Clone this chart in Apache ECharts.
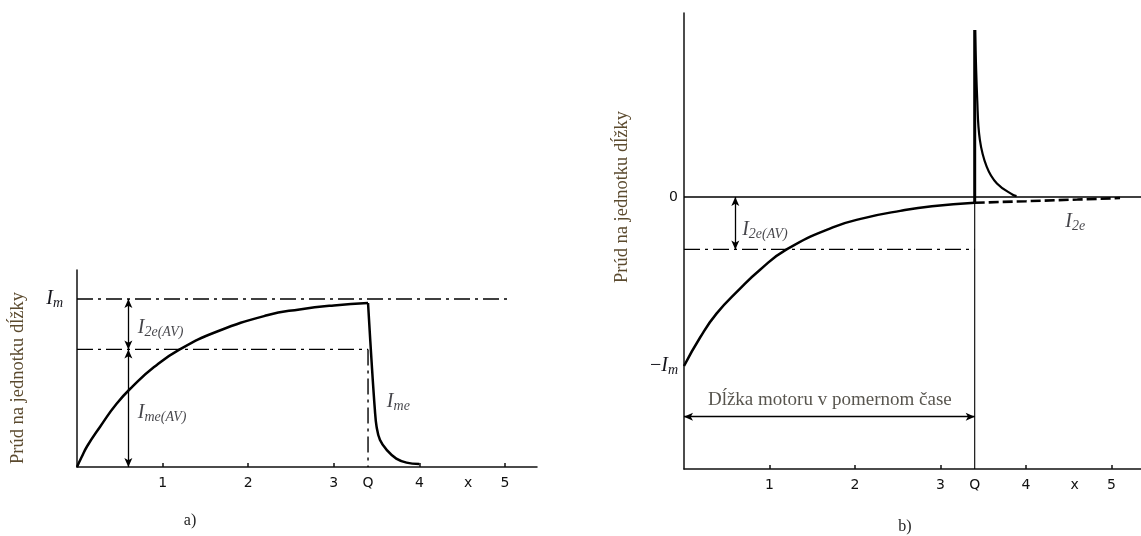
<!DOCTYPE html>
<html>
<head>
<meta charset="utf-8">
<script src="https://cdn.jsdelivr.net/npm/echarts@6/dist/echarts.min.js"></script>
<style>html,body{margin:0;padding:0;background:#fff}#c{width:1141px;height:536px}</style>
</head>
<body>
<div id="c"></div>
<script>
// ---- data ----
const xTicks = [1, 2, 3, 4, 5];
const Q = 3.4;
const xMark = 4.57;
const xLabelValues = [1, 2, 3, 3.4, 4, 4.57, 5];
const xLabelTexts = ['1', '2', '3', 'Q', '4', 'x', '5'];

// chart a)
const leftRise = [[0,0],[0.05,0.055],[0.12,0.125],[0.27,0.24],[0.46,0.375],[0.65,0.48],[0.9,0.595],[1.2,0.70],[1.63,0.805],[2.22,0.903],[2.6,0.938],[3.0,0.962],[3.4,0.976]];
const leftDecay = [[3.4,0.976],[3.44,0.64],[3.48,0.34],[3.5,0.24],[3.54,0.16],[3.62,0.10],[3.73,0.05],[3.85,0.026],[4.0,0.018]];
const leftIm = 1.0;
const leftImEnd = 5.06;
const leftAvg = 0.70;
const leftArrowX = 0.6;

// chart b)
const rightRise = [[0,-1],[0.19,-0.83],[0.38,-0.69],[0.65,-0.545],[0.89,-0.43],[1.2,-0.31],[1.74,-0.18],[2.13,-0.122],[2.53,-0.082],[2.9,-0.055],[3.4,-0.034]];
const rightSpikeUp = [[3.4,-0.034],[3.4,0.988]];
const rightSpikeDecay = [[3.405,0.988],[3.43,0.57],[3.46,0.34],[3.54,0.18],[3.66,0.08],[3.85,0.012],[3.89,0.005]];
const rightI2e = [[3.4,-0.034],[4.0,-0.025],[4.6,-0.015],[5.1,-0.006]];
const rightAvg = -0.31;
const rightArrowX = 0.6;
const rightLengthY = -1.30;

// label anchor points (value coords)
const lblL_I2eAV = [0.71, 0.83];
const lblL_ImeAV = [0.71, 0.32];
const lblL_Ime = [3.62, 0.39];
const lblR_I2eAV = [0.68, -0.195];
const lblR_I2e = [4.46, -0.148];
const lblR_len = [0.28, -1.20];

// ---- chart ----
const serif = 'Liberation Serif';
const ink = '#15151c';
const rich = {
  i: {fontFamily: serif, fontStyle: 'italic', fontSize: 20, color: ink, lineHeight: 24},
  s: {fontFamily: serif, fontStyle: 'italic', fontSize: 14, color: ink, padding: [9, 0, 0, 0], lineHeight: 24},
  m: {fontFamily: serif, fontSize: 20, color: ink, lineHeight: 24},
  z: {fontFamily: 'DejaVu Sans', fontSize: 14, color: '#111'}
};
const dashDot = [16, 5, 3, 5];

function xAxisCfg(gi, max) {
  return {
    type: 'value', gridIndex: gi, min: 0, max: max,
    axisLine: {show: true, onZero: false, lineStyle: {color: '#111', width: 1.5}},
    axisTick: {show: true, inside: true, length: 4, customValues: xTicks, lineStyle: {color: '#111', width: 1.5}},
    axisLabel: {show: true, customValues: xLabelValues, margin: 9, color: '#111', fontFamily: 'DejaVu Sans', fontSize: 14,
      formatter: v => { const k = xLabelValues.findIndex(a => Math.abs(a - v) < 1e-6); return k >= 0 ? xLabelTexts[k] : ''; }},
    splitLine: {show: false}
  };
}

function lineS(data, xi, opts) {
  return Object.assign({
    type: 'line', xAxisIndex: xi, yAxisIndex: xi, data: data, showSymbol: false, symbol: 'none',
    silent: true, animation: false,
    lineStyle: {color: '#000', width: 2.5}
  }, opts || {});
}

function lbl(pt, xi, text) {
  return {
    type: 'scatter', xAxisIndex: xi, yAxisIndex: xi, symbolSize: 0, silent: true, animation: false,
    data: [pt],
    label: {show: true, position: 'right', distance: 0, formatter: text, rich: rich}
  };
}

function arrowML(pairs) {
  return {
    silent: true, animation: false, symbol: ['arrow', 'arrow'], symbolSize: [6, 9],
    lineStyle: {color: '#000', type: 'solid', width: 1.3},
    label: {show: false},
    data: pairs.map(p => [{coord: p[0]}, {coord: p[1]}])
  };
}

const chart = echarts.init(document.getElementById('c'), null, {renderer: 'canvas'});
chart.setOption({
  backgroundColor: '#fff',
  animation: false,
  grid: [
    {left: 77, top: 270, width: 460, height: 197},
    {left: 684, top: 13, width: 457, height: 456}
  ],
  xAxis: [xAxisCfg(0, 5.374), xAxisCfg(1, 5.345)],
  yAxis: [
    {type: 'value', gridIndex: 0, min: 0, max: 1.1726,
      axisLine: {show: true, onZero: false, lineStyle: {color: '#111', width: 1.5}},
      axisTick: {show: false}, splitLine: {show: false},
      axisLabel: {show: true, customValues: [1], margin: 14, rich: rich, formatter: () => '{i|I}{s|m}'}},
    {type: 'value', gridIndex: 1, min: -1.6095, max: 1.0888,
      axisLine: {show: true, onZero: false, lineStyle: {color: '#111', width: 1.5}},
      axisTick: {show: false}, splitLine: {show: false},
      axisLabel: {show: true, customValues: [-1, 0], margin: 6, rich: rich,
        formatter: v => v === 0 ? '{z|0}' : '{m|−}{i|I}{s|m}'}}
  ],
  graphic: [
    {type: 'text', x: 18, y: 378, rotation: Math.PI / 2, style: {text: 'Prúd na jednotku dĺžky', font: '18.5px "Liberation Serif"', fill: '#5b4a2e', align: 'center', verticalAlign: 'middle'}},
    {type: 'text', x: 622, y: 197, rotation: Math.PI / 2, style: {text: 'Prúd na jednotku dĺžky', font: '18.5px "Liberation Serif"', fill: '#5b4a2e', align: 'center', verticalAlign: 'middle'}},
    {type: 'text', x: 190, y: 521, style: {text: 'a)', font: '16px "Liberation Serif"', fill: '#222', align: 'center', verticalAlign: 'middle'}},
    {type: 'text', x: 905, y: 527, style: {text: 'b)', font: '16px "Liberation Serif"', fill: '#222', align: 'center', verticalAlign: 'middle'}}
  ],
  series: [
    // chart a)
    lineS([[0, leftIm], [leftImEnd, leftIm]], 0, {lineStyle: {color: '#000', width: 1.4, type: dashDot}}),
    lineS([[0, leftAvg], [Q, leftAvg]], 0, {lineStyle: {color: '#000', width: 1.4, type: dashDot}}),
    lineS([[Q, leftAvg], [Q, 0]], 0, {lineStyle: {color: '#000', width: 1.4, type: dashDot},
      markLine: arrowML([[[leftArrowX, leftIm], [leftArrowX, leftAvg]], [[leftArrowX, leftAvg], [leftArrowX, 0]]])}),
    lineS(leftRise, 0, {smooth: 0.5}),
    lineS(leftDecay, 0, {smooth: 0.4}),
    lbl(lblL_I2eAV, 0, '{i|I}{s|2e(AV)}'),
    lbl(lblL_ImeAV, 0, '{i|I}{s|me(AV)}'),
    lbl(lblL_Ime, 0, '{i|I}{s|me}'),
    // chart b)
    lineS([[0, 0], [5.345, 0]], 1, {lineStyle: {color: '#000', width: 1.3}}),
    lineS([[Q, -0.034], [Q, -1.6095]], 1, {lineStyle: {color: '#000', width: 1.1},
      markLine: arrowML([[[0, rightLengthY], [Q, rightLengthY]], [[rightArrowX, 0], [rightArrowX, rightAvg]]])}),
    lineS([[0, rightAvg], [Q, rightAvg]], 1, {lineStyle: {color: '#000', width: 1.4, type: dashDot}}),
    lineS(rightRise, 1, {smooth: 0.5}),
    lineS(rightSpikeUp, 1, {lineStyle: {color: '#000', width: 3}}),
    lineS(rightSpikeDecay, 1, {smooth: 0.4, lineStyle: {color: '#000', width: 2.2}}),
    lineS(rightI2e, 1, {lineStyle: {color: '#000', width: 2.6, type: [10, 4]}}),
    lbl(lblR_I2eAV, 1, '{i|I}{s|2e(AV)}'),
    lbl(lblR_I2e, 1, '{i|I}{s|2e}'),
    {type: 'scatter', xAxisIndex: 1, yAxisIndex: 1, symbolSize: 0, silent: true, animation: false, data: [lblR_len],
      label: {show: true, position: 'right', distance: 0, formatter: 'Dĺžka motoru v pomernom čase',
        fontFamily: serif, fontSize: 19, color: '#2e2a22'}}
  ]
});
</script>
</body>
</html>
